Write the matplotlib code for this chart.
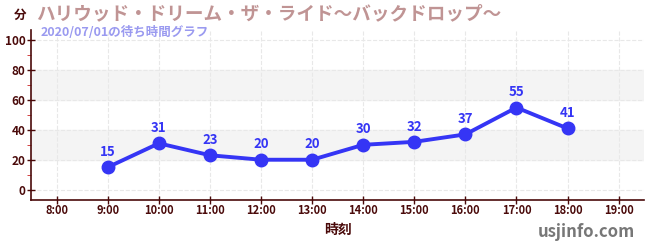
import matplotlib
matplotlib.use('Agg')
import matplotlib.pyplot as plt

plt.rcParams['font.family'] = ['Noto Sans CJK JP', 'DejaVu Sans']

# データ
jikan = [9, 10, 11, 12, 13, 14, 15, 16, 17, 18]
machi = [15, 31, 23, 20, 20, 30, 32, 37, 55, 41]
x_ticks = list(range(8, 20))
x_labels = [f'{h}:00' for h in x_ticks]
y_ticks = [0, 20, 40, 60, 80, 100]

dark = '#4a0a0a'
line_color = '#3535f5'

fig = plt.figure(figsize=(6.5, 2.5), dpi=100)
ax = fig.add_axes([0.048, 0.2, 0.943, 0.68])

# 背景の帯
for lo, hi in [(20, 40), (60, 80)]:
    ax.axhspan(lo, hi, color='#f4f4f4', zorder=0)

ax.plot(jikan, machi, '-o', color=line_color, lw=2.8, ms=9, zorder=3)
for x, y in zip(jikan, machi):
    ax.annotate(str(y), (x, y), xytext=(0, 6), textcoords='offset points',
                ha='center', va='bottom', color=line_color, fontsize=9.5, fontweight='bold')

ax.set_xlim(7.5, 19.5)
ax.set_ylim(-7, 107)
ax.set_xticks(x_ticks)
ax.set_xticklabels(x_labels)
ax.set_yticks(y_ticks)
ax.set_yticks([10, 30, 50, 70, 90], minor=True)
ax.tick_params(axis='both', colors=dark, length=6, width=1, direction='inout')
ax.tick_params(axis='x', labelsize=8, pad=0)
ax.tick_params(axis='y', labelsize=8.5, pad=1)
ax.tick_params(axis='y', which='minor', length=3, color='#cc2222', direction='out')
for lab in ax.get_xticklabels() + ax.get_yticklabels():
    lab.set_fontweight('bold')

ax.grid(True, color='#e8e8e8', ls='--', lw=0.8)
ax.set_axisbelow(True)
for s in ['top', 'right']:
    ax.spines[s].set_visible(False)
for s in ['left', 'bottom']:
    ax.spines[s].set_color(dark)
    ax.spines[s].set_linewidth(1.2)

ax.set_xlabel('時刻', color=dark, fontsize=10, fontweight='bold', labelpad=4)

fig.text(0.056, 0.944, 'ハリウッド・ドリーム・ザ・ライド～バックドロップ～', color='#c09494',
         fontsize=13.4, fontweight='bold', va='center')
fig.text(0.062, 0.872, '2020/07/01の待ち時間グラフ', color='#9a9af0',
         fontsize=9, fontweight='bold', va='center')
fig.text(0.031, 0.94, '分', color=dark, fontsize=9, fontweight='bold', va='center', ha='center')
fig.text(0.977, 0.072, 'usjinfo.com', color='#777777', fontsize=12, fontweight='bold',
         ha='right', va='center')

fig.savefig('out.png', dpi=100)
